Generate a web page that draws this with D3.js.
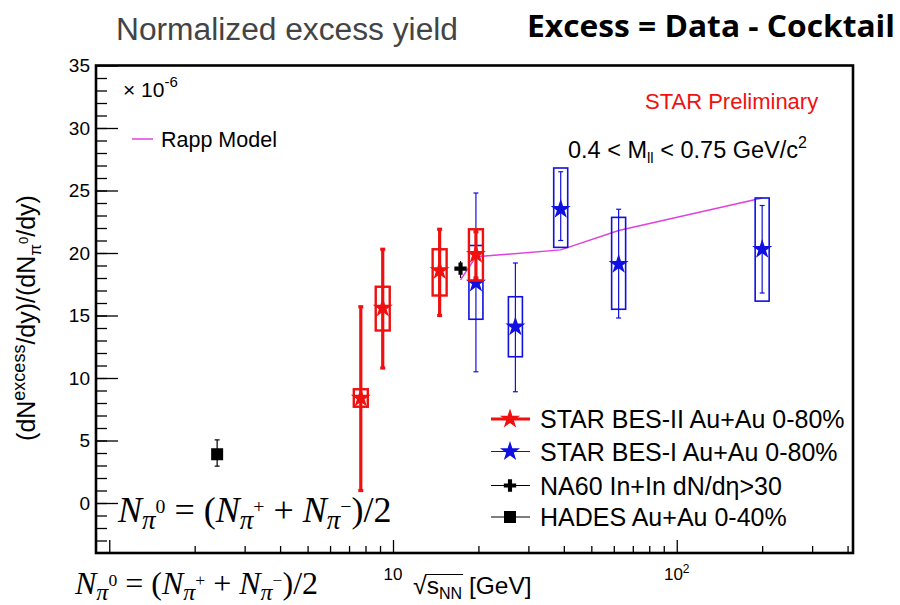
<!DOCTYPE html>
<html>
<head>
<meta charset="utf-8">
<script src="https://cdn.jsdelivr.net/npm/d3@7"></script>
<style>
  body { margin: 0; background: #fff; }
  svg { display: block; font-family: "Liberation Sans", Arial, sans-serif; }
</style>
</head>
<body>
<div id="chart"></div>
<script>
// STAR BES-II Au+Au 0-80%
const besIIEnergy = [7.7, 9.2, 14.6, 19.6];
const besIIValue = [8.4, 15.6, 18.6, 19.9];
const besIIStatLow = [1.0, 10.8, 15.0, 18.0];
const besIIStatHigh = [15.7, 20.3, 21.9, 21.7];
const besIISysLow = [7.7, 13.8, 16.6, 17.8];
const besIISysHigh = [9.1, 17.3, 20.3, 21.9];

// STAR BES-I Au+Au 0-80%
const besIEnergy = [19.6, 27, 39, 62.4, 200];
const besIValue = [17.6, 14.1, 23.5, 19.1, 20.3];
const besIStatLow = [10.5, 8.9, 21.0, 14.8, 16.8];
const besIStatHigh = [24.8, 19.2, 26.5, 23.5, 23.8];
const besISysLow = [14.7, 11.7, 20.45, 15.5, 16.15];
const besISysHigh = [20.6, 16.5, 26.8, 22.85, 24.4];

// NA60 In+In and HADES Au+Au
const na60Energy = [17.3];
const na60Value = [18.75];
const na60Low = [18.0];
const na60High = [19.35];
const hadesEnergy = [2.4];
const hadesValue = [3.9];
const hadesLow = [2.95];
const hadesHigh = [5.05];

// Rapp model
const rappEnergy = [17.3, 19.6, 39, 62.4, 200];
const rappValue = [17.85, 19.7, 20.25, 21.8, 24.4];

// ticks
const yMajorTicks = [0, 5, 10, 15, 20, 25, 30, 35];
const yMinorTicks = d3.range(-3, 35, 1);
const xMajorTicks = [1, 10, 100];
const xMinorTicks = [2, 3, 4, 5, 6, 7, 8, 9, 20, 30, 40, 50, 60, 70, 80, 90, 200, 300, 400];
const xLabelValues = [10, 100];
const xLabelExps = ['', '2'];

const legendNames = ['STAR BES-II Au+Au 0-80%', 'STAR BES-I Au+Au 0-80%', 'NA60 In+In dN/d\u03b7>30', 'HADES Au+Au 0-40%'];

const width = 900;
const height = 605;
const margin = { top: 65.5, right: 47, bottom: 52, left: 96 };

const red = '#f01010';
const blue = '#1010e0';
const magenta = '#e040e0';

const svg = d3.select('#chart').append('svg')
  .attr('width', width)
  .attr('height', height);

const x = d3.scaleLog()
  .domain([0.898, 418])
  .range([margin.left, width - margin.right]);

const y = d3.scaleLinear()
  .domain([-4, 35])
  .range([height - margin.bottom, margin.top]);

// Slide titles
svg.append('text')
  .attr('x', 116).attr('y', 40)
  .attr('textLength', 342).attr('lengthAdjust', 'spacingAndGlyphs')
  .style('font-size', '31px').style('fill', '#444')
  .text('Normalized excess yield');

svg.append('text')
  .attr('x', 527).attr('y', 37)
  .attr('textLength', 368).attr('lengthAdjust', 'spacingAndGlyphs')
  .style('font-family', '"Open Sans", sans-serif')
  .style('font-size', '30px').style('font-weight', 'bold')
  .text('Excess = Data - Cocktail');

// Axes
function styleAxis(g) {
  g.select('.domain').remove();
  g.selectAll('.tick line').attr('stroke', '#000').attr('stroke-width', 1.3);
}

svg.append('g')
  .attr('transform', `translate(${margin.left},0)`)
  .call(d3.axisLeft(y).tickValues(yMinorTicks).tickSize(-11).tickFormat(''))
  .call(styleAxis);

svg.append('g')
  .attr('transform', `translate(${margin.left},0)`)
  .call(d3.axisLeft(y).tickValues(yMajorTicks).tickSize(-22).tickPadding(6).tickFormat(d3.format('d')))
  .call(styleAxis)
  .selectAll('text')
  .style('font-size', '19px')
  .style('fill', '#000');

svg.append('g')
  .attr('transform', `translate(0,${y(-4)})`)
  .call(d3.axisBottom(x).tickValues(xMinorTicks).tickSize(-7).tickFormat(''))
  .call(styleAxis);

svg.append('g')
  .attr('transform', `translate(0,${y(-4)})`)
  .call(d3.axisBottom(x).tickValues(xMajorTicks).tickSize(-13).tickFormat(''))
  .call(styleAxis);

xLabelValues.forEach((v, i) => {
  const t = svg.append('text')
    .attr('x', x(v)).attr('y', 580)
    .attr('text-anchor', 'middle')
    .style('font-size', '17px')
    .text('10');
  if (xLabelExps[i]) {
    t.append('tspan').attr('dy', -7).style('font-size', '12px').text(xLabelExps[i]);
  }
});

// Frame
svg.append('rect')
  .attr('x', margin.left).attr('y', margin.top)
  .attr('width', x.range()[1] - margin.left)
  .attr('height', y(-4) - margin.top)
  .attr('fill', 'none').attr('stroke', '#000').attr('stroke-width', 2.6);

// Axis titles
const yTitle = svg.append('text')
  .attr('transform', 'translate(35,318) rotate(-90)')
  .attr('text-anchor', 'middle')
  .style('font-size', '25px');
yTitle.append('tspan').text('(dN');
yTitle.append('tspan').attr('dy', -10).style('font-size', '18px').text('excess');
yTitle.append('tspan').attr('dy', 10).text('/dy)/(dN');
yTitle.append('tspan').attr('dy', 6).style('font-size', '17px').text('\u03c0');
yTitle.append('tspan').attr('dy', -13).style('font-size', '13px').text('0');
yTitle.append('tspan').attr('dy', 7).text('/dy)');

const xTitle = svg.append('text')
  .attr('x', 413).attr('y', 594)
  .style('font-size', '24.5px');
xTitle.append('tspan').style('font-size', '25px').text('\u221a');
xTitle.append('tspan').text('s');
xTitle.append('tspan').attr('dy', 5).style('font-size', '16px').text('NN');
xTitle.append('tspan').attr('dy', -5).text(' [GeV]');
// overline of the square root, from the root sign to the end of NN
const xt = xTitle.node();
const rootEnd = xt.getEndPositionOfChar(0).x;
const nnEnd = xt.getEndPositionOfChar(3).x;
svg.append('line')
  .attr('x1', rootEnd - 1).attr('x2', nnEnd + 1)
  .attr('y1', 574.5).attr('y2', 574.5)
  .attr('stroke', '#000').attr('stroke-width', 1.2);

// Rapp model
svg.append('path')
  .datum(rappEnergy.map((e, i) => [e, rappValue[i]]))
  .attr('fill', 'none')
  .attr('stroke', magenta)
  .attr('stroke-width', 1.5)
  .attr('d', d3.line().x((d) => x(d[0])).y((d) => y(d[1])));

const star = d3.symbol(d3.symbolStar).size(125);

function drawSeries(energy, value, statLow, statHigh, sysLow, sysHigh, color, lw, bw) {
  const g = svg.append('g');
  const pts = energy.map((e, i) => ({
    e, v: value[i], lo: statLow[i], hi: statHigh[i], slo: sysLow[i], shi: sysHigh[i],
  }));
  g.selectAll('rect.sys').data(pts).enter().append('rect')
    .attr('class', 'sys')
    .attr('x', (d) => x(d.e) - 7)
    .attr('y', (d) => y(d.shi))
    .attr('width', 14)
    .attr('height', (d) => y(d.slo) - y(d.shi))
    .attr('fill', 'none').attr('stroke', color).attr('stroke-width', bw);
  g.selectAll('line.stat').data(pts).enter().append('line')
    .attr('x1', (d) => x(d.e)).attr('x2', (d) => x(d.e))
    .attr('y1', (d) => y(d.lo)).attr('y2', (d) => y(d.hi))
    .attr('stroke', color).attr('stroke-width', lw);
  ['lo', 'hi'].forEach((k) => {
    g.selectAll('line.cap' + k).data(pts).enter().append('line')
      .attr('x1', (d) => x(d.e) - 2.5).attr('x2', (d) => x(d.e) + 2.5)
      .attr('y1', (d) => y(d[k])).attr('y2', (d) => y(d[k]))
      .attr('stroke', color).attr('stroke-width', lw);
  });
  g.selectAll('path.mk').data(pts).enter().append('path')
    .attr('transform', (d) => `translate(${x(d.e)},${y(d.v)})`)
    .attr('d', star)
    .attr('fill', color);
}

drawSeries(besIEnergy, besIValue, besIStatLow, besIStatHigh, besISysLow, besISysHigh, blue, 1.2, 1.6);
drawSeries(besIIEnergy, besIIValue, besIIStatLow, besIIStatHigh, besIISysLow, besIISysHigh, red, 3.2, 2.4);

// NA60
const plus = d3.symbol(d3.symbolCross).size(85);
na60Energy.forEach((e, i) => {
  svg.append('line')
    .attr('x1', x(e)).attr('x2', x(e))
    .attr('y1', y(na60Low[i])).attr('y2', y(na60High[i]))
    .attr('stroke', '#000').attr('stroke-width', 1.2);
  svg.append('path')
    .attr('transform', `translate(${x(e)},${y(na60Value[i])})`)
    .attr('d', plus)
    .attr('fill', '#000');
});

// HADES
hadesEnergy.forEach((e, i) => {
  svg.append('line')
    .attr('x1', x(e)).attr('x2', x(e))
    .attr('y1', y(hadesLow[i])).attr('y2', y(hadesHigh[i]))
    .attr('stroke', '#000').attr('stroke-width', 1.2);
  [hadesLow[i], hadesHigh[i]].forEach((v) => {
    svg.append('line')
      .attr('x1', x(e) - 2.5).attr('x2', x(e) + 2.5)
      .attr('y1', y(v)).attr('y2', y(v))
      .attr('stroke', '#000').attr('stroke-width', 1.2);
  });
  svg.append('rect')
    .attr('x', x(e) - 6).attr('y', y(hadesValue[i]) - 6)
    .attr('width', 12).attr('height', 12)
    .attr('fill', '#000');
});

// Labels inside the frame
const exp = svg.append('text').attr('x', 123).attr('y', 97).style('font-size', '21px');
exp.append('tspan').text('\u00d7 10');
exp.append('tspan').attr('dy', -10).style('font-size', '15px').text('-6');

svg.append('line')
  .attr('x1', 132).attr('x2', 153).attr('y1', 139).attr('y2', 139)
  .attr('stroke', magenta).attr('stroke-width', 1.5);
svg.append('text')
  .attr('x', 161).attr('y', 146.5)
  .style('font-size', '21.5px')
  .text('Rapp Model');

svg.append('text')
  .attr('x', 645).attr('y', 109.3)
  .style('font-size', '22px').style('fill', red)
  .text('STAR Preliminary');

const mass = svg.append('text').attr('x', 568).attr('y', 158.3).style('font-size', '23.5px');
mass.append('tspan').text('0.4 < M');
mass.append('tspan').attr('dy', 5).style('font-size', '15px').text('ll');
mass.append('tspan').attr('dy', -5).text(' < 0.75 GeV/c');
mass.append('tspan').attr('dy', -10).style('font-size', '16px').text('2');

// Legend
const legendY = [419, 451.5, 485.5, 517];
const legendColors = [red, blue, '#000', '#000'];
const legendWidths = [2.8, 1.2, 1.2, 1.2];
legendNames.forEach((name, i) => {
  svg.append('line')
    .attr('x1', 491).attr('x2', 530)
    .attr('y1', legendY[i]).attr('y2', legendY[i])
    .attr('stroke', legendColors[i]).attr('stroke-width', legendWidths[i]);
  const m = svg.append('g').attr('transform', `translate(510,${legendY[i]})`);
  if (i < 2) {
    m.append('path').attr('d', star).attr('fill', legendColors[i]);
  } else if (i === 2) {
    m.append('path').attr('d', plus).attr('fill', '#000');
  } else {
    m.append('rect').attr('x', -6).attr('y', -6).attr('width', 12).attr('height', 12).attr('fill', '#000');
  }
  svg.append('text')
    .attr('x', 540).attr('y', legendY[i] + 9)
    .style('font-size', '25px')
    .text(name);
});

// pi0 definition, two copies as on the slide
function formula(px, py, size) {
  const t = svg.append('text')
    .attr('x', px).attr('y', py)
    .style('font-family', '"Liberation Serif", "Times New Roman", serif')
    .style('font-size', size + 'px');
  const subDy = size * 0.2;
  const supDy = size * 0.45;
  const piece = (txt, sup) => {
    t.append('tspan').style('font-style', 'italic').text('N');
    t.append('tspan').attr('dy', subDy).style('font-size', size * 0.75 + 'px').style('font-style', 'italic').text('\u03c0');
    t.append('tspan').attr('dy', -supDy).style('font-size', size * 0.55 + 'px').text(sup);
    t.append('tspan').attr('dy', supDy - subDy).text(txt);
  };
  piece(' = (', '0');
  piece(' + ', '+');
  piece(')/2', '\u2212');
}
formula(118, 521.7, 36);
formula(75, 594, 32);
</script>
</body>
</html>
